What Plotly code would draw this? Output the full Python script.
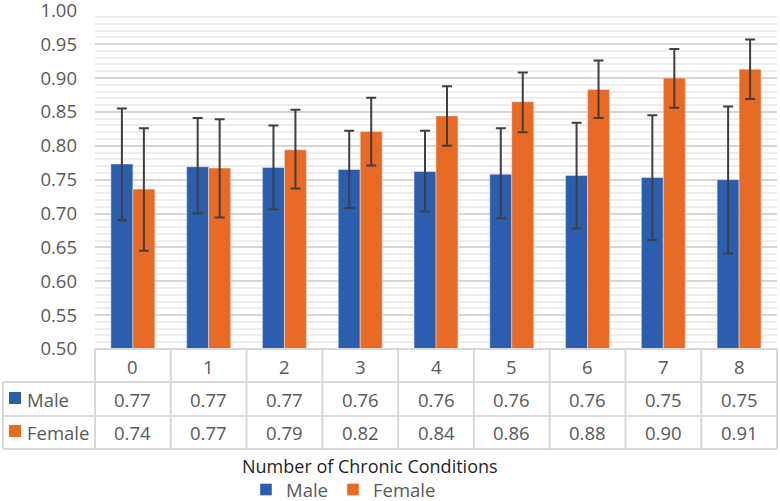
import plotly.graph_objects as go

categories = ["0", "1", "2", "3", "4", "5", "6", "7", "8"]
male = [0.773, 0.769, 0.768, 0.765, 0.762, 0.758, 0.756, 0.753, 0.750]
male_hi = [0.855, 0.841, 0.830, 0.822, 0.822, 0.826, 0.834, 0.845, 0.858]
male_lo = [0.690, 0.700, 0.706, 0.708, 0.703, 0.693, 0.678, 0.661, 0.641]
female = [0.736, 0.767, 0.794, 0.821, 0.844, 0.865, 0.883, 0.900, 0.913]
female_hi = [0.826, 0.839, 0.853, 0.871, 0.888, 0.908, 0.926, 0.943, 0.957]
female_lo = [0.645, 0.694, 0.737, 0.771, 0.800, 0.820, 0.841, 0.856, 0.869]
male_labels = ["0.77", "0.77", "0.77", "0.76", "0.76", "0.76", "0.76", "0.75", "0.75"]
female_labels = ["0.74", "0.77", "0.79", "0.82", "0.84", "0.86", "0.88", "0.90", "0.91"]
y_ticks = [0.50, 0.55, 0.60, 0.65, 0.70, 0.75, 0.80, 0.85, 0.90, 0.95, 1.00]

BLUE = "#2B5EAE"
ORANGE = "#E96A25"
ERR = "#3F3F3F"
GRID = "#D6D6D6"
TABLE = "#D9D9D9"
TXT = "#595959"
FONT = "Open Sans"
FS = 18.5

W, H = 780, 501
ML, MR, MT, MB = 95, 3, 10, 152
PW = W - ML - MR
PH = H - MT - MB


def py(p):  # pixel y -> paper y
    return (H - MB - p) / PH


def px(p):  # pixel x -> paper x
    return (p - ML) / PW


fig = go.Figure()
fig.add_trace(go.Bar(
    x=categories, y=male, name="Male", marker_color=BLUE,
    error_y=dict(type="data", symmetric=False,
                 array=[h - v for h, v in zip(male_hi, male)],
                 arrayminus=[v - l for v, l in zip(male, male_lo)],
                 color=ERR, thickness=2, width=5),
))
fig.add_trace(go.Bar(
    x=categories, y=female, name="Female", marker_color=ORANGE,
    error_y=dict(type="data", symmetric=False,
                 array=[h - v for h, v in zip(female_hi, female)],
                 arrayminus=[v - l for v, l in zip(female, female_lo)],
                 color=ERR, thickness=2, width=5),
))

shapes = []
line = dict(color=TABLE, width=2)
n = len(categories)
row_lines = [349, 382, 416, 449]
left_edge = px(3)
shapes.append(dict(type="line", xref="paper", yref="paper", x0=0, x1=1,
                   y0=py(349), y1=py(349), line=line, layer="above"))
for r in row_lines[1:]:
    shapes.append(dict(type="line", xref="paper", yref="paper", x0=left_edge, x1=1,
                       y0=py(r), y1=py(r), line=line))
for k in range(n + 1):
    shapes.append(dict(type="line", xref="paper", yref="paper", x0=k / n, x1=k / n,
                       y0=py(349), y1=py(449), line=line))
shapes.append(dict(type="line", xref="paper", yref="paper", x0=left_edge, x1=left_edge,
                   y0=py(382), y1=py(449), line=line))
for r, col in [(398, BLUE), (431, ORANGE)]:
    shapes.append(dict(type="rect", xref="paper", yref="paper",
                       x0=px(9), x1=px(21), y0=py(r + 6), y1=py(r - 6),
                       fillcolor=col, line=dict(width=0)))

tfont = dict(size=FS, color=TXT, family=FONT)
annotations = []
for i, c in enumerate(categories):
    for row_y, txt in [(366, c), (399, male_labels[i]), (432, female_labels[i])]:
        annotations.append(dict(x=c, xref="x", y=py(row_y), yref="paper", text=txt,
                                xanchor="center", yanchor="middle",
                                showarrow=False, font=tfont))
annotations.append(dict(x=px(25), xref="paper", y=py(399), yref="paper", text="Male",
                        xanchor="left", yanchor="middle", showarrow=False, font=tfont))
annotations.append(dict(x=px(25), xref="paper", y=py(432), yref="paper", text="Female",
                        xanchor="left", yanchor="middle", showarrow=False, font=tfont))
annotations.append(dict(x=px(370), xref="paper", y=py(466), yref="paper",
                        text="Number of Chronic Conditions", showarrow=False,
                        xanchor="center", yanchor="middle",
                        font=dict(size=18, color="#1F1F1F", family=FONT)))

fig.update_layout(
    width=W, height=H,
    margin=dict(l=ML, r=MR, t=MT, b=MB, pad=0, autoexpand=False),
    paper_bgcolor="white", plot_bgcolor="white",
    barmode="group", bargap=0.42, bargroupgap=0,
    font=dict(family=FONT, size=FS, color=TXT),
    xaxis=dict(type="category", range=[-0.5, n - 0.5], showticklabels=False,
               showgrid=False, zeroline=False, showline=False, ticks="",
               automargin=False),
    yaxis=dict(range=[0.5, 1.0004], tickvals=y_ticks, tickformat=".2f",
               showgrid=True, gridcolor=GRID, gridwidth=2, zeroline=False,
               showline=False, ticks="", ticklabelstandoff=17,
               ticklabeloverflow="allow", automargin=False,
               tickfont=tfont,
               minor=dict(dtick=0.01, showgrid=True, gridcolor="#EDEDED", gridwidth=1.5)),
    showlegend=True,
    legend=dict(orientation="h", xref="container", yref="container",
                x=246 / W, xanchor="left", y=11 / H, yanchor="middle",
                font=tfont, itemwidth=30,
                bgcolor="rgba(0,0,0,0)", traceorder="normal"),
    shapes=shapes, annotations=annotations,
)

fig.write_html("out.html", config={"displayModeBar": False},
               post_script="document.body.style.margin='0';")
